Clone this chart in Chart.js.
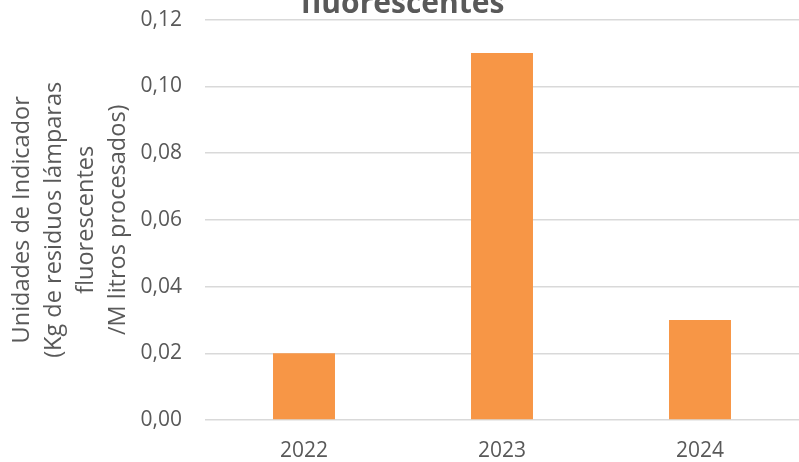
<!DOCTYPE html>
<html>
<head>
<meta charset="utf-8">
<script src="https://cdn.jsdelivr.net/npm/chart.js@4.4.0/dist/chart.umd.min.js"></script>
<style>
  html, body { margin: 0; padding: 0; background: #fff; overflow: hidden; }
  #wrap { position: relative; width: 799px; height: 478px; margin-top: -16px; }
</style>
</head>
<body>
<div id="wrap"><canvas id="myChart"></canvas></div>
<script>
const years = ["2022", "2023", "2024"];
const kgValues = [0.02, 0.11, 0.03];
const yTitleLines = [
  "Unidades de Indicador",
  "(Kg de residuos lámparas",
  "fluorescentes",
  "/M litros procesados)"
];
const chartTitle = "fluorescentes";

const grey = "#595959";
const ctx = document.getElementById("myChart").getContext("2d");

window.myChart = new Chart(ctx, {
  type: "bar",
  data: {
    labels: years,
    datasets: [
      {
        data: kgValues,
        backgroundColor: "#F79646",
        barPercentage: 0.313,
        categoryPercentage: 1,
      },
    ],
  },
  options: {
    responsive: true,
    maintainAspectRatio: false,
    animation: false,
    devicePixelRatio: 1,
    layout: { padding: { left: 6, right: 0, top: 0, bottom: 0 } },
    plugins: {
      legend: { display: false },
      tooltip: { enabled: false },
      title: {
        display: true,
        text: chartTitle,
        color: grey,
        font: { family: "'Open Sans'", size: 30, weight: "bold", lineHeight: 1.0 },
        padding: { top: 0, bottom: 0 },
      },
    },
    scales: {
      x: {
        grid: { display: false, drawTicks: false },
        border: { display: false },
        ticks: {
          color: grey,
          padding: 18,
          font: { family: "'Open Sans'", size: 21 },
        },
        afterFit: (scale) => { scale.height = 42; },
      },
      y: {
        min: 0,
        max: 0.12,
        grid: { color: "#D9D9D9", lineWidth: 1.5, drawTicks: false },
        border: { display: false },
        ticks: {
          stepSize: 0.02,
          color: grey,
          padding: 23,
          font: { family: "'Open Sans'", size: 21 },
          callback: (v) => v.toFixed(2).replace(".", ","), // decimal comma
        },
        title: {
          display: true,
          text: yTitleLines,
          color: grey,
          padding: { top: 0, bottom: 0 },
          font: { family: "'Open Sans'", size: 23.5, lineHeight: 1.36 },
        },
        afterFit: (scale) => { scale.width = 199; },
      },
    },
  },
});
</script>
</body>
</html>
